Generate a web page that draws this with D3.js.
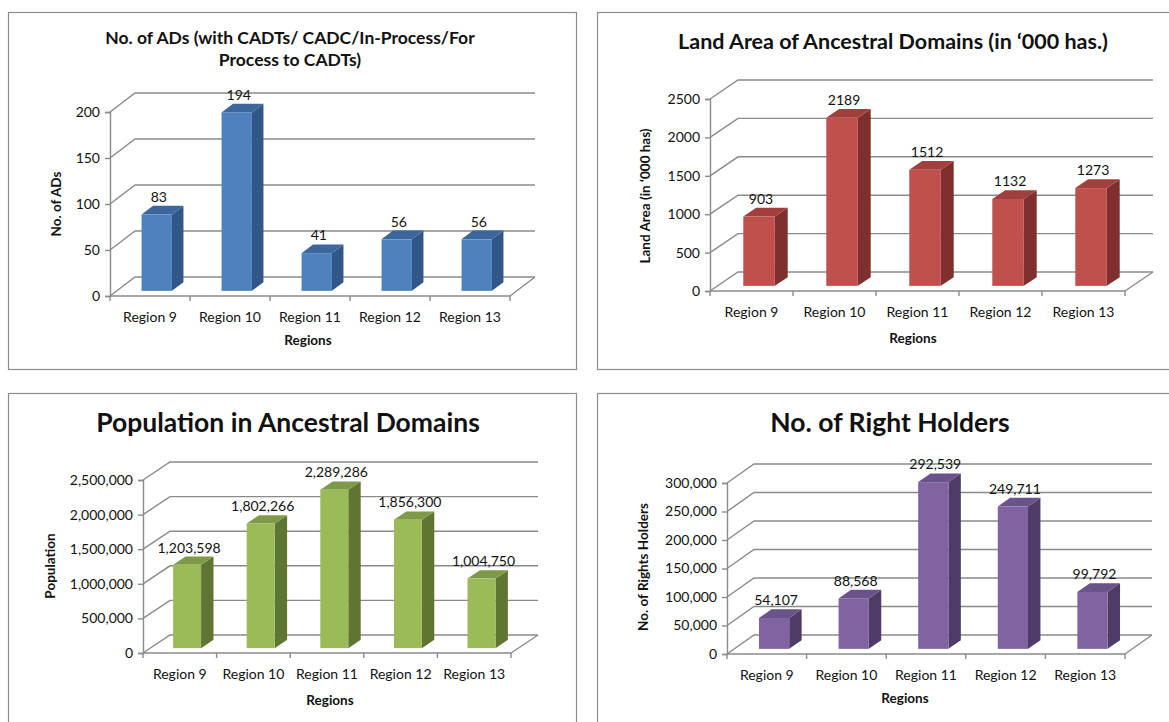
<!DOCTYPE html>
<html>
<head>
<meta charset="utf-8">
<script src="https://cdn.jsdelivr.net/npm/d3@7"></script>
<style>
body { margin: 0; background: #fff; }
text { font-family: Lato, "Open Sans", sans-serif; fill: #111; }
</style>
</head>
<body>
<script>
// data
var regions = ["Region 9", "Region 10", "Region 11", "Region 12", "Region 13"];
var adsCount = [83, 194, 41, 56, 56];
var landArea = [903, 2189, 1512, 1132, 1273];
var population = [1203598, 1802266, 2289286, 1856300, 1004750];
var rightHolders = [54107, 88568, 292539, 249711, 99792];

var adsTicks = [0, 50, 100, 150, 200];
var landTicks = [0, 500, 1000, 1500, 2000, 2500];
var popTicks = [0, 500000, 1000000, 1500000, 2000000, 2500000];
var holderTicks = [0, 50000, 100000, 150000, 200000, 250000, 300000];

var svg = d3.select("body").append("svg")
    .attr("width", 1169)
    .attr("height", 722);

var gridColor = "#8a8a8a";

function drawChart(opt) {
    var g = svg.append("g");

    // panel frame
    g.append("rect")
        .attr("x", opt.box[0] + 0.5).attr("y", opt.box[1] + 0.5)
        .attr("width", opt.box[2]).attr("height", opt.box[3])
        .attr("fill", "#fff").attr("stroke", "#8c8c8c").attr("stroke-width", 1.2);

    // title
    opt.title.forEach(function (t, i) {
        g.append("text")
            .attr("x", opt.titleX)
            .attr("y", opt.titleY + i * opt.titleLine)
            .attr("text-anchor", "middle")
            .attr("font-size", opt.titleSize + "px")
            .attr("font-weight", "bold")
            .text(t);
    });

    var x = d3.scaleBand()
        .domain(regions)
        .range([opt.x0, opt.x1]);

    var y = d3.scaleLinear()
        .domain([0, d3.max(opt.ticks)])
        .range([opt.y0, opt.yTop]);

    var dx = opt.dx, dy = opt.dy;

    // side wall diagonals + back wall gridlines
    opt.ticks.forEach(function (t) {
        var yy = y(t);
        g.append("path")
            .attr("d", "M" + opt.x0 + "," + yy + "L" + (opt.x0 + dx) + "," + (yy - dy) +
                "L" + (opt.x1 + dx) + "," + (yy - dy))
            .attr("fill", "none")
            .attr("stroke", gridColor)
            .attr("stroke-width", 1.4);
    });

    // floor right edge
    g.append("line")
        .attr("x1", opt.x1).attr("y1", opt.y0)
        .attr("x2", opt.x1 + dx).attr("y2", opt.y0 - dy)
        .attr("stroke", gridColor).attr("stroke-width", 1.4);

    // y axis
    var yAxis = d3.axisLeft(y)
        .tickValues(opt.ticks)
        .tickSize(5)
        .tickPadding(5)
        .tickFormat(opt.fmt);

    var yg = g.append("g")
        .attr("transform", "translate(" + opt.x0 + ",0)")
        .call(yAxis);
    yg.select(".domain").attr("stroke", gridColor).attr("stroke-width", 1.4);
    yg.selectAll(".tick line").attr("stroke", gridColor).attr("stroke-width", 1.4);
    yg.selectAll(".tick text")
        .attr("font-size", "14px")
        .attr("fill", "#111")
        .style("font-family", "Lato, 'Open Sans', sans-serif");

    // x axis: line with ticks on band boundaries, labels centred
    g.append("line")
        .attr("x1", opt.x0).attr("y1", opt.y0)
        .attr("x2", opt.x1).attr("y2", opt.y0)
        .attr("stroke", gridColor).attr("stroke-width", 1.4);

    var bounds = regions.map(function (r) { return x(r); }).concat([opt.x1]);
    g.selectAll(".xtick")
        .data(bounds)
        .enter()
        .append("line")
        .attr("x1", d => d).attr("x2", d => d)
        .attr("y1", opt.y0).attr("y2", opt.y0 + 5)
        .attr("stroke", gridColor).attr("stroke-width", 1.4);

    g.selectAll(".xlab")
        .data(regions)
        .enter()
        .append("text")
        .attr("x", d => x(d) + x.bandwidth() / 2)
        .attr("y", opt.y0 + 26)
        .attr("text-anchor", "middle")
        .attr("font-size", "14px")
        .text(d => d);

    // 3D bars
    var bw = x.bandwidth() * 0.38;
    var f0 = 0.27, fd = 0.46;

    var bars = g.selectAll(".bar")
        .data(opt.values)
        .enter()
        .append("g");

    bars.each(function (v, i) {
        var b = d3.select(this);
        var xl = x(regions[i]) + (x.bandwidth() - bw) / 2 + f0 * dx;
        var yb = y(0) - f0 * dy;
        var yt = y(v) - f0 * dy;
        var ox = fd * dx, oy = fd * dy;

        // side
        b.append("path")
            .attr("d", "M" + (xl + bw) + "," + yt + "L" + (xl + bw + ox) + "," + (yt - oy) +
                "L" + (xl + bw + ox) + "," + (yb - oy) + "L" + (xl + bw) + "," + yb + "Z")
            .attr("fill", opt.side);
        // top
        b.append("path")
            .attr("d", "M" + xl + "," + yt + "L" + (xl + ox) + "," + (yt - oy) +
                "L" + (xl + bw + ox) + "," + (yt - oy) + "L" + (xl + bw) + "," + yt + "Z")
            .attr("fill", opt.top);
        // front
        b.append("rect")
            .attr("x", xl).attr("y", yt)
            .attr("width", bw).attr("height", yb - yt)
            .attr("fill", opt.front);

        b.append("text")
            .attr("x", xl + bw / 2 + 2)
            .attr("y", yt - oy - 4)
            .attr("text-anchor", "middle")
            .attr("font-size", "14px")
            .text(opt.fmt(v));
    });

    // axis titles
    g.append("text")
        .attr("transform", "translate(" + opt.yTitleX + "," + opt.yTitleY + ") rotate(-90)")
        .attr("text-anchor", "middle")
        .attr("font-size", "13.5px")
        .attr("font-weight", "bold")
        .text(opt.yTitle);

    g.append("text")
        .attr("x", opt.xTitleX)
        .attr("y", opt.xTitleY)
        .attr("text-anchor", "middle")
        .attr("font-size", "13.5px")
        .attr("font-weight", "bold")
        .text("Regions");
}

var plain = d3.format("d");
var comma = d3.format(",");

drawChart({
    box: [8, 12, 568, 357],
    title: ["No. of ADs (with CADTs/ CADC/In-Process/For", "Process to CADTs)"],
    titleX: 290, titleY: 44, titleSize: 17.5, titleLine: 22,
    values: adsCount, ticks: adsTicks, fmt: plain,
    x0: 110, x1: 510, y0: 296, yTop: 112, dx: 25, dy: 19,
    front: "#4f81bd", side: "#325687", top: "#3d679c",
    yTitle: "No. of ADs", yTitleX: 61, yTitleY: 204,
    xTitleX: 308, xTitleY: 345
});

drawChart({
    box: [597, 12, 580, 357],
    title: ["Land Area of Ancestral Domains (in \u2018000 has.)"],
    titleX: 893, titleY: 49, titleSize: 21.5, titleLine: 0,
    values: landArea, ticks: landTicks, fmt: plain,
    x0: 710, x1: 1125, y0: 291, yTop: 99, dx: 28, dy: 19,
    front: "#c0504d", side: "#7f2f2e", top: "#a03f3c",
    yTitle: "Land Area (in \u2018000 has)", yTitleX: 650, yTitleY: 196,
    xTitleX: 913, xTitleY: 343
});

drawChart({
    box: [8, 393, 568, 340],
    title: ["Population in Ancestral Domains"],
    titleX: 288, titleY: 432, titleSize: 26.5, titleLine: 0,
    values: population, ticks: popTicks, fmt: comma,
    x0: 143, x1: 511, y0: 653, yTop: 480, dx: 27, dy: 18,
    front: "#9bbb59", side: "#5f7633", top: "#7e9a48",
    yTitle: "Population", yTitleX: 55, yTitleY: 566,
    xTitleX: 330, xTitleY: 705
});

drawChart({
    box: [597, 393, 580, 340],
    title: ["No. of Right Holders"],
    titleX: 890, titleY: 432, titleSize: 26.5, titleLine: 0,
    values: rightHolders, ticks: holderTicks, fmt: comma,
    x0: 727, x1: 1125, y0: 654, yTop: 483, dx: 27, dy: 19,
    front: "#8064a2", side: "#4e3c66", top: "#6a528a",
    yTitle: "No. of Rights Holders", yTitleX: 648, yTitleY: 567,
    xTitleX: 905, xTitleY: 703
});
</script>
</body>
</html>
